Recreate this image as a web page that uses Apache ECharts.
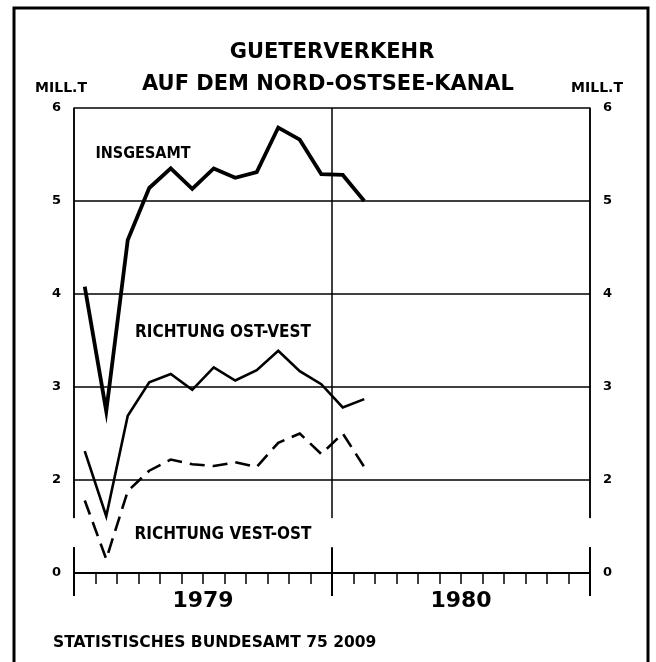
<!DOCTYPE html>
<html>
<head>
<meta charset="utf-8">
<script src="https://cdn.jsdelivr.net/npm/echarts@6/dist/echarts.min.js"></script>
<style>html,body{margin:0;padding:0;background:#fff}#c{width:656px;height:662px}</style>
</head>
<body>
<div id="c"></div>
<script>
// Categories: months Jan 1979 .. Dec 1980
const months = ['Jan 79','Feb 79','Mrz 79','Apr 79','Mai 79','Jun 79','Jul 79','Aug 79','Sep 79','Okt 79','Nov 79','Dez 79',
                'Jan 80','Feb 80','Mrz 80','Apr 80','Mai 80','Jun 80','Jul 80','Aug 80','Sep 80','Okt 80','Nov 80','Dez 80'];
const years = ['1979', '1980'];
// Series values (Mill. t)
const insgesamt = [4.08, 2.74, 4.58, 5.14, 5.35, 5.13, 5.35, 5.25, 5.31, 5.79, 5.66, 5.29, 5.28, 5.00];
const ostWest   = [2.31, 1.61, 2.69, 3.05, 3.14, 2.97, 3.21, 3.07, 3.18, 3.39, 3.17, 3.03, 2.78, 2.87];
const westOst   = [1.78, 1.15, 1.88, 2.10, 2.22, 2.17, 2.15, 2.19, 2.14, 2.40, 2.50, 2.28, 2.50, 2.14];
// Y tick values; axis is broken between 0 and 1 (the axis bottom, value 1, is labelled "0")
const yTicks = [1, 2, 3, 4, 5, 6];
const yBreakLabel = {1: '0'};

const FONT = "'DejaVu Sans', sans-serif";
const FONT_C = "'DejaVu Sans Condensed', 'Liberation Sans Narrow', 'DejaVu Sans', sans-serif";
const chart = echarts.init(document.getElementById('c'), null, {renderer: 'canvas'});

const yAxisBase = {
  type: 'value', min: yTicks[0], max: yTicks[yTicks.length - 1], interval: 1,
  axisLine: {show: true, onZero: false, lineStyle: {color: '#000', width: 1.5}},
  axisTick: {show: false},
  axisLabel: {color: '#000', fontFamily: FONT, fontWeight: 'bold', fontSize: 13, margin: 13,
              formatter: v => (yBreakLabel[v] !== undefined ? yBreakLabel[v] : String(v))}
};

chart.setOption({
  animation: false,
  backgroundColor: '#fff',
  grid: {left: 74, right: 66, top: 108, bottom: 89, containLabel: false, outerBoundsMode: 'none'},
  xAxis: [
    { type: 'category', data: months, boundaryGap: true,
      axisLine: {show: true, onZero: false, lineStyle: {color: '#000', width: 2}},
      axisTick: {show: true, interval: 0, length: 11, lineStyle: {color: '#000', width: 1.5}},
      axisLabel: {show: false}, splitLine: {show: false} },
    { type: 'category', data: years, boundaryGap: true, position: 'bottom',
      axisLine: {show: false},
      axisTick: {show: true, interval: 0, length: 23, lineStyle: {color: '#000', width: 2}},
      axisLabel: {show: true, color: '#000', fontFamily: FONT, fontWeight: 'bold', fontSize: 22, margin: 17},
      splitLine: {show: true, interval: 0, lineStyle: {color: '#000', width: 1.5}} },
    { type: 'category', data: years, boundaryGap: true, position: 'bottom',
      axisLine: {show: false},
      axisTick: {show: true, inside: true, interval: 0, length: 25, lineStyle: {color: '#000', width: 2}},
      axisLabel: {show: false}, splitLine: {show: false} }
  ],
  yAxis: [
    Object.assign({}, yAxisBase, {position: 'left',
      splitLine: {show: true, lineStyle: {color: '#000', width: 1.5}}}),
    Object.assign({}, yAxisBase, {position: 'right', splitLine: {show: false}})
  ],
  series: [
    { name: 'INSGESAMT', type: 'line', data: insgesamt, symbol: 'none', z: 5,
      lineStyle: {color: '#000', width: 3.8, join: 'miter'} },
    { name: 'RICHTUNG OST-VEST', type: 'line', data: ostWest, symbol: 'none', z: 5,
      lineStyle: {color: '#000', width: 2.6, join: 'miter'} },
    { name: 'RICHTUNG VEST-OST', type: 'line', data: westOst, symbol: 'none', z: 5,
      lineStyle: {color: '#000', width: 2.6, type: [15, 8], join: 'miter'} }
  ]
});

// Axis-break gaps on the vertical lines (between the "0" line and 2)
const px0 = chart.convertToPixel({xAxisIndex: 0}, 0);
const px1 = chart.convertToPixel({xAxisIndex: 0}, 1);
const step = px1 - px0;
const gapTop = chart.convertToPixel({yAxisIndex: 0}, 1.59);
const gapBot = chart.convertToPixel({yAxisIndex: 0}, 1.28);
const boundaries = [0, 12, 24].map(i => px0 - step / 2 + i * step);

const txt = (text, x, y, size, font, extra) => ({
  type: 'text', x: x, y: y, z: 200,
  style: Object.assign({text: text, fill: '#000', font: 'bold ' + size + 'px ' + font,
    textAlign: 'center', textVerticalAlign: 'middle'}, extra || {})
});

const graphics = boundaries.map(bx => ({
  type: 'rect', z: 150, shape: {x: bx - 4, y: gapTop, width: 8, height: gapBot - gapTop},
  style: {fill: '#fff'}
}));
graphics.push({type: 'rect', z: 300, shape: {x: 14, y: 8, width: 634, height: 700},
  style: {fill: 'none', stroke: '#000', lineWidth: 3}});
graphics.push(txt('GUETERVERKEHR', 332, 53, 21, FONT));
graphics.push(txt('AUF DEM NORD-OSTSEE-KANAL', 328, 85, 21, FONT));
graphics.push(txt('MILL.T', 61, 88, 14, FONT));
graphics.push(txt('MILL.T', 597, 88, 14, FONT));
graphics.push(txt('INSGESAMT', 143, 154, 16, FONT_C));
graphics.push(txt('RICHTUNG OST-VEST', 223, 333, 17, FONT_C));
graphics.push(txt('RICHTUNG VEST-OST', 223, 535, 17, FONT_C));
graphics.push(txt('STATISTISCHES BUNDESAMT 75 2009', 53, 643, 15.5, FONT, {textAlign: 'left'}));

chart.setOption({graphic: graphics});
</script>
</body>
</html>
